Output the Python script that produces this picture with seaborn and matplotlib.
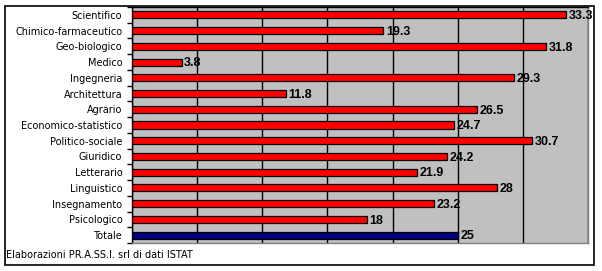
import matplotlib
matplotlib.use("Agg")
import matplotlib.pyplot as plt
import seaborn as sns
import pandas as pd
from matplotlib.patches import Rectangle
from matplotlib.ticker import FixedLocator

categories = ["Scientifico", "Chimico-farmaceutico", "Geo-biologico", "Medico",
              "Ingegneria", "Architettura", "Agrario", "Economico-statistico",
              "Politico-sociale", "Giuridico", "Letterario", "Linguistico",
              "Insegnamento", "Psicologico", "Totale"]
values = [33.3, 19.3, 31.8, 3.8, 29.3, 11.8, 26.5, 24.7, 30.7, 24.2, 21.9, 28, 23.2, 18, 25]
value_labels = ["33.3", "19.3", "31.8", "3.8", "29.3", "11.8", "26.5", "24.7",
                "30.7", "24.2", "21.9", "28", "23.2", "18", "25"]
colors = ["#FF0000"] * 14 + ["#000080"]
footnote = "Elaborazioni PR.A.SS.I. srl di dati ISTAT"

df = pd.DataFrame({"cat": categories, "val": values})

sns.set_style("white")
plt.rcParams["font.family"] = ["DejaVu Sans"]

fig = plt.figure(figsize=(6.02, 2.71), dpi=100)
W, H = 602, 271
ax = fig.add_axes([132 / W, 1 - 243 / H, 456 / W, 236 / H])
ax.set_facecolor("#C0C0C0")

sns.barplot(data=df, x="val", y="cat", hue="cat", palette=colors, orient="h",
            width=0.45, edgecolor="black", linewidth=0.9, legend=False, ax=ax,
            saturation=1, zorder=3)

ax.set_xlim(0, 35)
ax.set_ylim(14.5, -0.5)
ax.set_xticks(range(0, 36, 5))
ax.xaxis.grid(True, color="black", linewidth=1.0)
ax.set_axisbelow(True)
ax.tick_params(axis="x", length=0, labelbottom=False)
ax.set_xlabel("")
ax.set_ylabel("")

ax.tick_params(axis="y", which="major", length=0, pad=7, labelsize=7, colors="black")
ax.yaxis.set_minor_locator(FixedLocator([i - 0.5 for i in range(16)]))
ax.tick_params(axis="y", which="minor", length=3.5, width=1.0, color="black", left=True)

for s in ["left", "top"]:
    ax.spines[s].set_color("black")
    ax.spines[s].set_linewidth(1.0)
for s in ["right", "bottom"]:
    ax.spines[s].set_color("#808080")
    ax.spines[s].set_linewidth(1.0)

for i, (v, lab) in enumerate(zip(values, value_labels)):
    ax.text(v + 0.2, i + 0.08, lab, va="center", ha="left", fontsize=9,
            fontweight="bold", family=["Liberation Sans", "DejaVu Sans"],
            color="black", clip_on=False, zorder=5)

fig.text(6 / W, 1 - 255 / H, footnote, fontsize=7, va="center", ha="left",
         color="black")

fig.patches.append(Rectangle((5 / W, 1 - 265 / H), 589 / W, 259 / H,
                             transform=fig.transFigure, fill=False,
                             edgecolor="black", linewidth=1.2, zorder=10))

fig.savefig("out.png", dpi=100)
